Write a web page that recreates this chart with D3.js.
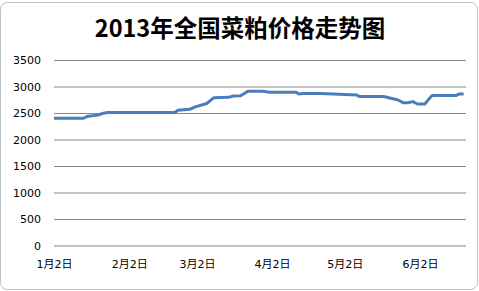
<!doctype html>
<html><head><meta charset="utf-8"/>
<title>2013年全国菜粕价格走势图</title>
<style>
  body { margin:0; background:#fff; }
  svg { display:block; }
  .tick text { font-family:"DejaVu Sans","Noto Sans CJK SC",sans-serif; font-size:11px; fill:#000; }
</style>
</head><body>
<svg id="g" width="479" height="291"></svg>
<script src="https://cdn.jsdelivr.net/npm/d3@7"></script>
<script>
// Daily price points (yuan/ton)
const dates = [
  "2013-01-02","2013-01-14","2013-01-16","2013-01-20","2013-01-22","2013-01-24",
  "2013-02-21","2013-02-22","2013-02-27","2013-03-01","2013-03-06","2013-03-09",
  "2013-03-15","2013-03-17","2013-03-20","2013-03-23","2013-03-29","2013-04-01",
  "2013-04-12","2013-04-13","2013-04-15","2013-04-22","2013-05-07","2013-05-08",
  "2013-05-18","2013-05-24","2013-05-26","2013-05-28","2013-05-30","2013-06-01",
  "2013-06-04","2013-06-06","2013-06-07","2013-06-17","2013-06-18","2013-06-20"
];
const prices = [
  2400, 2400, 2440, 2460, 2490, 2510,
  2510, 2550, 2570, 2610, 2680, 2790,
  2795, 2820, 2825, 2910, 2910, 2890,
  2890, 2860, 2870, 2870, 2840, 2810,
  2810, 2745, 2695, 2695, 2715, 2670,
  2670, 2780, 2830, 2830, 2860, 2860
];
const yTicks = [0, 500, 1000, 1500, 2000, 2500, 3000, 3500];
const xTickDates = ["2013-01-02","2013-02-02","2013-03-02","2013-04-02","2013-05-02","2013-06-02"];
const title = "2013年全国菜粕价格走势图";

const parse = d3.timeParse("%Y-%m-%d");
const data = dates.map((d, i) => ({ date: parse(d), v: prices[i] }));

const svg = d3.select("#g");
// chart frame
svg.append("rect").attr("x", 0.5).attr("y", 2.5).attr("width", 477).attr("height", 287)
  .attr("rx", 7).attr("fill", "#fff").attr("stroke", "#b4c4c4");

const x = d3.scaleTime().domain([parse("2013-01-02"), parse("2013-06-21")]).range([54, 466]);
const y = d3.scaleLinear().domain([0, 3500]).range([245.5, 60]);

// gridlines + y labels
const yAxis = svg.append("g").attr("transform", "translate(54,0)")
  .call(d3.axisLeft(y).tickValues(yTicks).tickSize(-412).tickPadding(13).tickFormat(d3.format("d")));
yAxis.select(".domain").remove();
yAxis.selectAll(".tick line").attr("stroke", "#868686");

// x labels
const xAxis = svg.append("g").attr("transform", "translate(0,245.5)")
  .call(d3.axisBottom(x).tickValues(xTickDates.map(parse)).tickSize(0).tickPadding(15)
    .tickFormat(d => (d.getMonth() + 1) + "月" + d.getDate() + "日"));
xAxis.select(".domain").remove();

// price line
svg.append("path").datum(data)
  .attr("fill", "none").attr("stroke", "#4a7ebb").attr("stroke-width", 3)
  .attr("stroke-linejoin", "round")
  .attr("d", d3.line().x(d => x(d.date)).y(d => y(d.v)));

svg.append("text").attr("x", 240).attr("y", 37).attr("text-anchor", "middle")
  .attr("font-family", "'Noto Sans CJK SC',sans-serif").attr("font-weight", "bold")
  .attr("font-size", 23.5).attr("fill", "#000").text(title);
</script>
</body></html>
